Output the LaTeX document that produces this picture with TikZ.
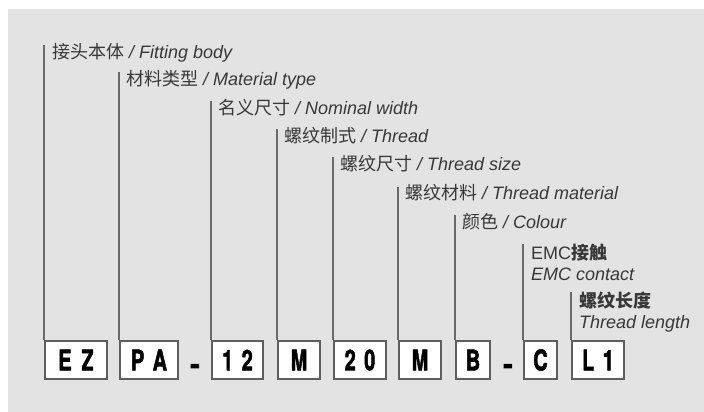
\documentclass[tikz,border=0pt]{standalone}
\usepackage{fontspec}
\setmainfont{Liberation Sans}
\newfontfamily\cjk{Noto Sans CJK SC}
\newfontfamily\boxfont[BoldFeatures={FakeBold=2.2}]{TeX Gyre Heros}
\definecolor{bg}{HTML}{E3E3E3}
\definecolor{linegray}{HTML}{6A6A6A}
\definecolor{boxgray}{HTML}{5E5E5E}
\definecolor{txt}{HTML}{383838}
\newcommand{\cn}[1]{{\cjk #1}}
\newcommand{\cnb}[1]{{\cjk\bfseries #1}}
\newcommand{\cond}[1]{\scalebox{0.7}[1]{\boxfont\bfseries #1}}
\begin{document}
\begin{tikzpicture}[x=1pt,y=-1pt,
  codebox/.style={draw=boxgray,line width=2pt,fill=white,minimum height=38pt,inner sep=0pt,
    font=\fontsize{28.5}{28}\selectfont,text=black},
  lab/.style={anchor=west,inner sep=0pt,font=\fontsize{18}{21}\selectfont,text=txt},
  lab2/.style={anchor=north west,inner sep=0pt,align=left,font=\fontsize{18}{21}\selectfont,text=txt},
  conn/.style={draw=linegray,line width=1.3pt},
  dashmark/.style={inner sep=0pt,font=\fontsize{28.5}{28}\selectfont\boxfont\bfseries,text=black}]
\useasboundingbox (0,0) rectangle (704,412);
\fill[bg] (8,9) rectangle (704,412);
% boxes
\node[codebox,minimum width=62pt] (ez) at (76,360) {\cond{E\hspace{14pt}Z}};
\node[codebox,minimum width=58pt] (pa) at (149,360) {\cond{P\hspace{12pt}A}};
\node[dashmark] (d1) at (195,369) {-};
\node[codebox,minimum width=51pt] (n12) at (237.5,360) {\cond{1\hspace{12pt}2}};
\node[codebox,minimum width=42pt] (m1) at (299,360) {\cond{M}};
\node[codebox,minimum width=52pt] (n20) at (360,360) {\cond{2\hspace{12pt}0}};
\node[codebox,minimum width=42pt] (m2) at (420,360) {\cond{M}};
\node[codebox,minimum width=34pt] (b) at (473,360) {\cond{B}};
\node[dashmark] (d2) at (508,369) {-};
\node[codebox,minimum width=33pt] (c) at (540.5,360) {\cond{C}};
\node[codebox,minimum width=52pt] (l1) at (598,360) {\cond{L\hspace{12pt}1}};
% labels
\node[lab] (t1) at (52,53) {\cn{接头本体} \textit{/ Fitting body}};
\node[lab] (t2) at (126,80) {\cn{材料类型} \textit{/ Material type}};
\node[lab] (t3) at (218,108) {\cn{名义尺寸} \textit{/ Nominal width}};
\node[lab] (t4) at (284,136) {\cn{螺纹制式} \textit{/ Thread}};
\node[lab] (t5) at (340,164) {\cn{螺纹尺寸} \textit{/ Thread size}};
\node[lab] (t6) at (405,193) {\cn{螺纹材料} \textit{/ Thread material}};
\node[lab] (t7) at (462,222) {\cn{颜色} \textit{/ Colour}};
\node[lab2] (t8) at (531,244) {EMC\cnb{接触}\\\textit{EMC contact}};
\node[lab2] (t9) at (579,292) {\cnb{螺纹长度}\\\textit{Thread length}};
% connectors
\draw[conn] (ez.north west) -- ([yshift=-2pt]ez.north west |- t1.north);
\draw[conn] (pa.north west) -- ([yshift=-2pt]pa.north west |- t2.north);
\draw[conn] (n12.north west) -- ([yshift=-2pt]n12.north west |- t3.north);
\draw[conn] (m1.north west) -- ([yshift=-2pt]m1.north west |- t4.north);
\draw[conn] (n20.north west) -- ([yshift=-2pt]n20.north west |- t5.north);
\draw[conn] (m2.north west) -- ([yshift=-2pt]m2.north west |- t6.north);
\draw[conn] (b.north west) -- ([yshift=-2pt]b.north west |- t7.north);
\draw[conn] (c.north west) -- (c.north west |- t8.north);
\draw[conn] (l1.north west) -- (l1.north west |- t9.north);
\end{tikzpicture}
\end{document}
